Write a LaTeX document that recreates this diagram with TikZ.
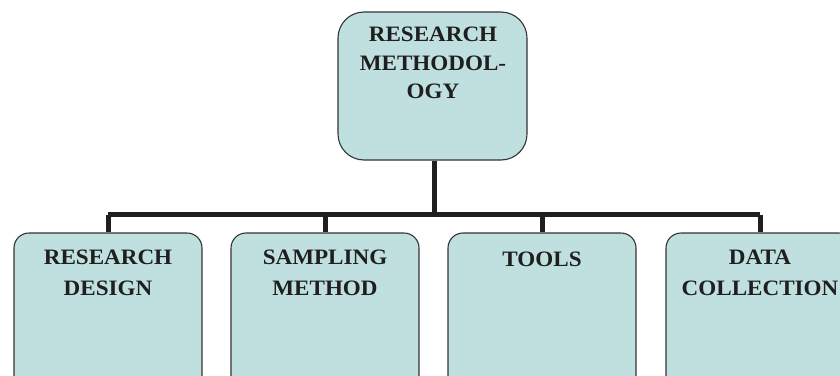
\documentclass[tikz,border=0pt]{standalone}
\usepackage{fontspec}
\setmainfont{Liberation Serif}[FakeStretch=1.05]
\definecolor{boxfill}{HTML}{C0E0DF}
\definecolor{boxline}{HTML}{333333}
\tikzset{
  box/.style={draw=boxline, line width=1.1pt, fill=boxfill, rectangle, inner sep=0pt},
  topbox/.style={box, rounded corners=26pt, minimum width=189pt, minimum height=148pt},
  lowbox/.style={box, rounded corners=15pt, minimum width=188pt, minimum height=170pt},
  lbl/.style={anchor=north, align=center, inner sep=0pt, text=black!88},
  toplbl/.style={lbl, font=\bfseries\fontsize{22}{28.5}\selectfont},
  lowlbl/.style={lbl, font=\bfseries\fontsize{22}{31}\selectfont},
  conn/.style={draw=black!88, line width=5pt}
}
\begin{document}
\begin{tikzpicture}[x=1pt, y=-1pt]
\clip (0,0) rectangle (840,375);
\fill[white] (0,0) rectangle (840,375);
% top box
\node[topbox] (top) at (432.5,86) {};
\node[toplbl] (toptext) at (433,27) {RESEARCH\\METHODOL-\\OGY};
% bottom boxes
\node[lowbox] (b1) at (108,318) {};
\node[lowbox] (b2) at (325,318) {};
\node[lowbox] (b3) at (542,318) {};
\node[lowbox] (b4) at (760,318) {};
\node[lowlbl] (t1) at (108,250) {RESEARCH\\DESIGN};
\node[lowlbl] (t2) at (325,250) {SAMPLING\\METHOD};
\node[lowlbl] (t3) at (542,252) {TOOLS};
\node[lowlbl] (t4) at (760,250) {DATA\\COLLECTION};
% connectors
\coordinate (j) at (434,214.5);
\draw[conn] (top.south -| j) -- (j);
\draw[conn] (b1.north |- j) -- (b4.north |- j);
\draw[conn] (b1.north |- j) -- (b1.north);
\draw[conn] (b2.north |- j) -- (b2.north);
\draw[conn] (b3.north |- j) -- (b3.north);
\draw[conn] (b4.north |- j) -- (b4.north);
\end{tikzpicture}
\end{document}
